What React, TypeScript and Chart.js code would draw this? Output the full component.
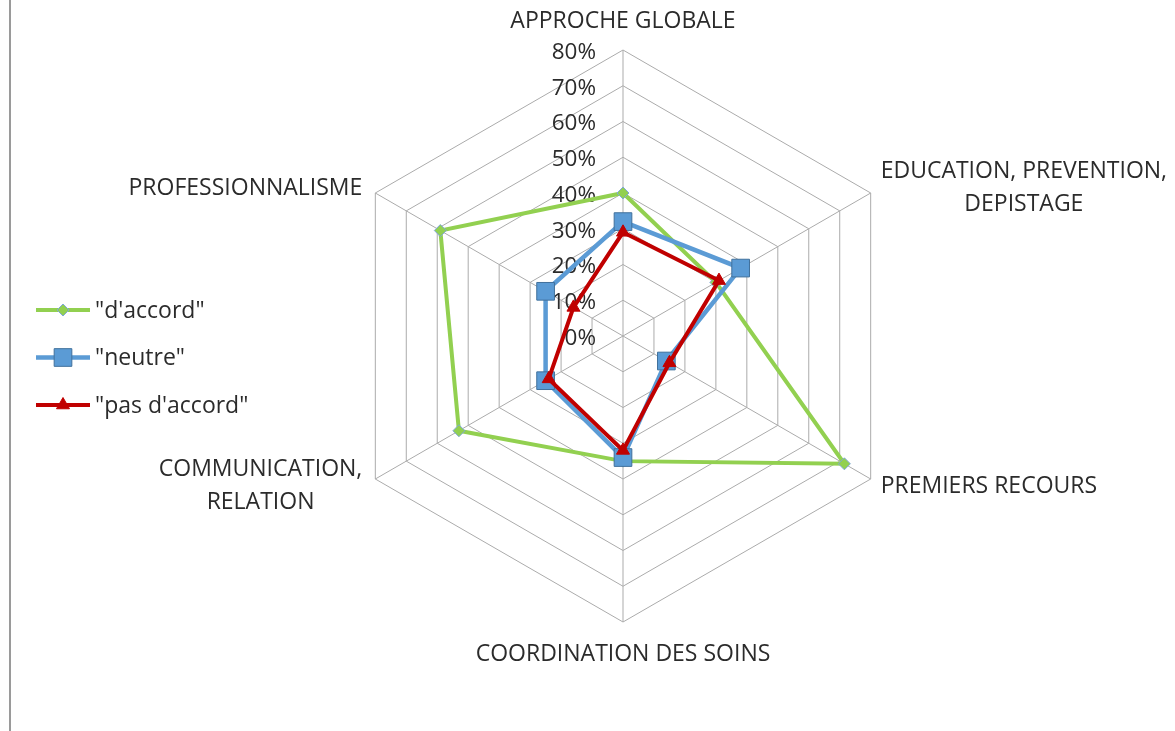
import React, { useEffect, useRef } from 'react';
import { Chart, registerables } from 'chart.js';

Chart.register(...registerables);

// ---- data ----
const categories: string[][] = [
  ['APPROCHE GLOBALE'],
  ['EDUCATION, PREVENTION,', 'DEPISTAGE'],
  ['PREMIERS RECOURS'],
  ['COORDINATION DES SOINS'],
  ['COMMUNICATION,', 'RELATION'],
  ['PROFESSIONNALISME'],
];
const seriesNames = ['"d\'accord"', '"neutre"', '"pas d\'accord"'];
const accordValues = [40, 30, 71.5, 35, 53, 59];
const neutreValues = [32, 38, 14, 34, 25, 25];
const pasAccordValues = [29, 31, 15, 32, 24, 16];
const tickMin = 0;
const tickMax = 80;
const tickStep = 10;

const FONT = '"Open Sans", "Liberation Sans", sans-serif';
const TEXT = '#2b2b2b';

function drawMarker(ctx: CanvasRenderingContext2D, style: string, x: number, y: number, r: number, fill: string, stroke: string) {
  ctx.save();
  ctx.beginPath();
  if (style === 'rectRot') {
    ctx.moveTo(x, y - r);
    ctx.lineTo(x + r, y);
    ctx.lineTo(x, y + r);
    ctx.lineTo(x - r, y);
    ctx.closePath();
  } else if (style === 'rect') {
    const s = Math.SQRT1_2 * r;
    ctx.rect(x - s, y - s, 2 * s, 2 * s);
  } else {
    for (let k = 0; k < 3; k++) {
      const a = (k * 2 * Math.PI) / 3;
      const px = x + Math.sin(a) * r;
      const py = y - Math.cos(a) * r;
      if (k === 0) ctx.moveTo(px, py);
      else ctx.lineTo(px, py);
    }
    ctx.closePath();
  }
  ctx.fillStyle = fill;
  ctx.fill();
  ctx.strokeStyle = stroke;
  ctx.lineWidth = 1;
  ctx.stroke();
  ctx.restore();
}

const customPlugin = {
  id: 'customDraw',
  beforeDatasetsDraw(chart: any) {
    const ctx: CanvasRenderingContext2D = chart.ctx;
    const scale = chart.scales.r;
    ctx.save();
    ctx.font = `22.5px ${FONT}`;
    ctx.fillStyle = TEXT;
    ctx.textAlign = 'right';
    ctx.textBaseline = 'middle';
    scale.ticks.forEach((t: any) => {
      const y = scale.yCenter - scale.getDistanceFromCenterForValue(t.value);
      const label = t.label !== undefined ? t.label : `${t.value}%`;
      ctx.fillText(label, scale.xCenter - 27, y + 2.5);
    });
    ctx.restore();
  },
  afterDraw(chart: any) {
    const ctx: CanvasRenderingContext2D = chart.ctx;
    const scale = chart.scales.r;
    const labels: string[][] = chart.data.labels;

    // frame edge on the left
    ctx.save();
    ctx.fillStyle = '#9a9a9a';
    ctx.fillRect(9, 0, 2, chart.height);
    ctx.restore();

    // point labels
    ctx.save();
    ctx.font = `23px ${FONT}`;
    ctx.fillStyle = TEXT;
    ctx.textAlign = 'center';
    ctx.textBaseline = 'middle';
    const lineH = 33;
    labels.forEach((lines, i) => {
      const p = scale.getPointPosition(i, scale.drawingArea);
      const widths = lines.map((l) => ctx.measureText(l).width);
      const bw = Math.max(...widths);
      const bh = lines.length * lineH;
      let cx = p.x;
      let cy = p.y;
      const dx = p.x - scale.xCenter;
      if (Math.abs(dx) < 1) {
        cy = p.y < scale.yCenter ? p.y - 29 : p.y + 32;
      } else {
        const yShift = p.y < scale.yCenter ? -5 : 7;
        cy = p.y + yShift;
        cx = dx > 0 ? p.x + 10 + bw / 2 : p.x - 13 - bw / 2;
      }
      lines.forEach((l, k) => {
        ctx.fillText(l, cx, cy - bh / 2 + lineH / 2 + k * lineH);
      });
    });
    ctx.restore();

    // legend
    ctx.save();
    ctx.font = `23px ${FONT}`;
    ctx.textAlign = 'left';
    ctx.textBaseline = 'middle';
    chart.data.datasets.forEach((ds: any, i: number) => {
      const y = 310 + i * 47.5;
      ctx.beginPath();
      ctx.strokeStyle = ds.borderColor;
      ctx.lineWidth = ds.borderWidth;
      ctx.moveTo(36, y);
      ctx.lineTo(90, y);
      ctx.stroke();
      drawMarker(ctx, ds.pointStyle, 63, y, ds.pointRadius, ds.pointBackgroundColor, ds.pointBorderColor);
      ctx.fillStyle = TEXT;
      ctx.fillText(ds.label, 95, y + 1);
    });
    ctx.restore();
  },
};

export default function App() {
  const ref = useRef<HTMLCanvasElement | null>(null);

  useEffect(() => {
    if (!ref.current) return;
    const chart = new Chart(ref.current, {
      type: 'radar',
      data: {
        labels: categories as any,
        datasets: [
          {
            label: seriesNames[0],
            data: accordValues,
            borderColor: '#92d050',
            backgroundColor: 'transparent',
            borderWidth: 4,
            fill: false,
            pointStyle: 'rectRot',
            pointRadius: 6,
            pointBackgroundColor: '#92d050',
            pointBorderColor: '#7fa7d8',
            pointBorderWidth: 1,
            order: 3,
          },
          {
            label: seriesNames[1],
            data: neutreValues,
            borderColor: '#5b9bd5',
            backgroundColor: 'transparent',
            borderWidth: 4.5,
            fill: false,
            pointStyle: 'rect',
            pointRadius: 12.5,
            pointBackgroundColor: '#5b9bd5',
            pointBorderColor: '#41719c',
            pointBorderWidth: 1,
            order: 2,
          },
          {
            label: seriesNames[2],
            data: pasAccordValues,
            borderColor: '#c00000',
            backgroundColor: 'transparent',
            borderWidth: 4,
            fill: false,
            pointStyle: 'triangle',
            pointRadius: 7.5,
            pointBackgroundColor: '#c00000',
            pointBorderColor: '#c00000',
            pointBorderWidth: 1,
            order: 1,
          },
        ] as any,
      },
      options: {
        responsive: false,
        maintainAspectRatio: false,
        animation: false,
        layout: { padding: { top: 50, bottom: 109, left: 337, right: 266 } },
        elements: { line: { tension: 0 } },
        plugins: {
          legend: { display: false },
          tooltip: { enabled: false },
          title: { display: false },
        },
        scales: {
          r: {
            min: tickMin,
            max: tickMax,
            beginAtZero: true,
            ticks: {
              stepSize: tickStep,
              display: false,
              callback: (v: any) => `${v}%`,
            },
            grid: { color: '#ababab', lineWidth: 1, circular: false },
            angleLines: { display: true, color: '#ababab', lineWidth: 1 },
            pointLabels: { display: false },
          },
        },
      },
      plugins: [customPlugin],
    });
    return () => chart.destroy();
  }, []);

  return (
    <div style={{ position: 'absolute', left: 0, top: 0, width: 1175, height: 731, background: '#fff' }}>
      <canvas ref={ref} width={1175} height={731} style={{ display: 'block' }} />
    </div>
  );
}
